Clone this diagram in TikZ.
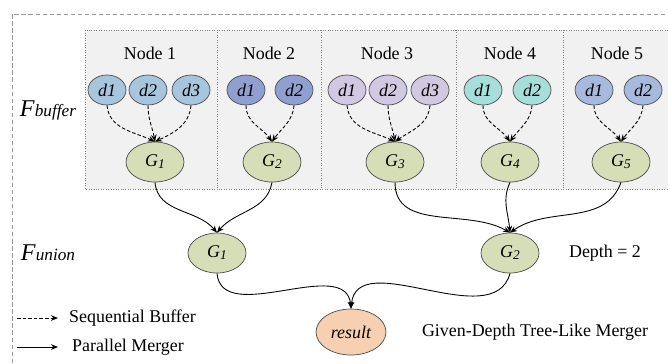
\documentclass[tikz,border=0pt]{standalone}
\usepackage{fontspec}
\setmainfont{Liberation Serif}
\usetikzlibrary{arrows.meta, positioning, shapes.geometric}
\definecolor{panelgray}{RGB}{241,241,241}
\definecolor{dblue}{RGB}{168,197,222}
\definecolor{dnavy}{RGB}{143,159,208}
\definecolor{dlilac}{RGB}{209,201,225}
\definecolor{dcyan}{RGB}{166,222,218}
\definecolor{dsteel}{RGB}{167,185,220}
\definecolor{gsage}{RGB}{214,222,183}
\definecolor{respeach}{RGB}{246,208,177}
\newcommand{\glab}[1]{\textit{G}\raisebox{-0.25ex}{\fontsize{7.6}{8}\selectfont\textit{#1}}}
\newcommand{\flab}[1]{\textit{\fontsize{13.7}{14}\selectfont F}\textit{\fontsize{9.8}{10}\selectfont #1}}

\begin{document}
\begin{tikzpicture}[
  x=0.02cm, y=-0.02cm,
  font=\fontsize{10.2}{12}\selectfont,
  dnode/.style={ellipse, draw=black!70, line width=0.4pt, minimum width=0.76cm, minimum height=0.6cm, inner sep=0pt, font=\fontsize{10.2}{12}\selectfont\itshape},
  gnode/.style={ellipse, draw=black!70, line width=0.4pt, fill=gsage, minimum width=1.16cm, minimum height=0.8cm, inner sep=0pt},
  buf/.style={-{Stealth[length=4pt,width=3.2pt]}, dash pattern=on 2pt off 1.2pt, line width=0.5pt},
  merge/.style={-{Stealth[length=4pt,width=3.2pt]}, line width=0.5pt}
]
  \useasboundingbox (0,0) rectangle (668,363);
  \begin{scope}
    \clip (0,0) rectangle (668,363);
    \draw[gray!80, dash pattern=on 2.5pt off 1.5pt] (12,370) -- (12,14) -- (680,14);
    \fill[panelgray] (85,30) rectangle (680,189);
    \draw[gray, densely dotted] (680,30) -- (85,30) -- (85,189) -- (680,189);
    \draw[gray, densely dotted] (217,30) -- (217,189);
    \draw[gray, densely dotted] (321,30) -- (321,189);
    \draw[gray, densely dotted] (456,30) -- (456,189);
    \draw[gray, densely dotted] (563,30) -- (563,189);
  \end{scope}

  \node (fbuf) at (48,110) {\flab{buffer}};
  \node (funi) at (48,253) {\flab{union}};

  \node (t1) at (150,53) {Node 1};
  \node (t2) at (269,53) {Node 2};
  \node (t3) at (387,53) {Node 3};
  \node (t4) at (510,53) {Node 4};
  \node (t5) at (617,53) {Node 5};

  \node[dnode, fill=dblue] (a1) at (107,90) {d1};
  \node[dnode, fill=dblue] (a2) at (148,90) {d2};
  \node[dnode, fill=dblue] (a3) at (191,90) {d3};
  \node[dnode, fill=dnavy] (b1) at (246,90) {d1};
  \node[dnode, fill=dnavy] (b2) at (294,90) {d2};
  \node[dnode, fill=dlilac] (c1) at (347,90) {d1};
  \node[dnode, fill=dlilac] (c2) at (388,90) {d2};
  \node[dnode, fill=dlilac] (c3) at (430,90) {d3};
  \node[dnode, fill=dcyan] (e1) at (483,90) {d1};
  \node[dnode, fill=dcyan] (e2) at (532,90) {d2};
  \node[dnode, fill=dsteel] (f1) at (594,90) {d1};
  \node[dnode, fill=dsteel] (f2) at (643,90) {d2};

  \node[gnode] (g1) at (155,162) {\glab{1}};
  \node[gnode] (g2) at (272,162) {\glab{2}};
  \node[gnode] (g3) at (395,162) {\glab{3}};
  \node[gnode] (g4) at (510,162) {\glab{4}};
  \node[gnode] (g5) at (621,162) {\glab{5}};

  \node[gnode] (u1) at (217,253) {\glab{1}};
  \node[gnode] (u2) at (510,253) {\glab{2}};
  \node (depth) at (605,253) {Depth = 2};

  \node[ellipse, draw=black!70, line width=0.4pt, fill=respeach, minimum width=1.4cm, minimum height=0.92cm, inner sep=0pt, font=\fontsize{10.2}{12}\selectfont\itshape] (res) at (351,332) {result};
  \node (tree) at (535,332) {Given-Depth Tree-Like Merger};

  \draw[buf] (a1.south) to[out=-85, in=155] (g1.north);
  \draw[buf] (a2.south) to[out=-90, in=100] (g1.north);
  \draw[buf] (a3.south) to[out=-95, in=25] (g1.north);
  \draw[buf] (b1.south) to[out=-90, in=125] (g2.north);
  \draw[buf] (b2.south) to[out=-95, in=55] (g2.north);
  \draw[buf] (c1.south) to[out=-85, in=155] (g3.north);
  \draw[buf] (c2.south) to[out=-90, in=100] (g3.north);
  \draw[buf] (c3.south) to[out=-95, in=35] (g3.north);
  \draw[buf] (e1.south) to[out=-90, in=125] (g4.north);
  \draw[buf] (e2.south) to[out=-95, in=55] (g4.north);
  \draw[buf] (f1.south) to[out=-90, in=125] (g5.north);
  \draw[buf] (f2.south) to[out=-95, in=55] (g5.north);

  \draw[merge] (g1.south) to[out=-85, in=130] (u1.north);
  \draw[merge] (g2.south) to[out=-100, in=50] (u1.north);
  \draw[merge] (g3.south) to[out=-90, in=150] (u2.north);
  \draw[merge] (g4.south) to[out=-115, in=95] (u2.north);
  \draw[merge] (g5.south) to[out=-110, in=35] (u2.north);
  \draw[merge] (u1.south) to[out=-85, in=95] (res.north);
  \draw[merge] (u2.south) to[out=-105, in=85] (res.north);

  \coordinate (bs) at (17,318);
  \coordinate (be) at (58,318);
  \coordinate (ms) at (17,347);
  \coordinate (me) at (58,347);
  \draw[buf] (bs) -- (be);
  \draw[merge] (ms) -- (me);
  \node[anchor=west] (bt) at (63,318) {Sequential Buffer};
  \node[anchor=west] (mt) at (66,347) {Parallel Merger};
\end{tikzpicture}
\end{document}
